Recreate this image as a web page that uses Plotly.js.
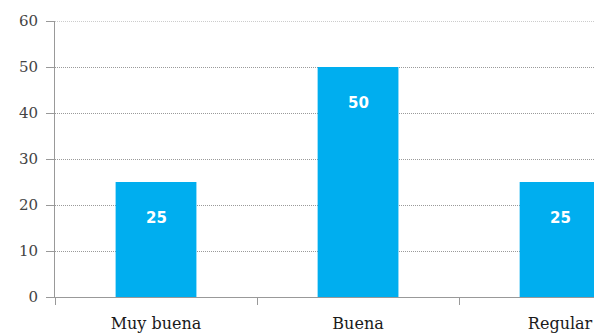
<!DOCTYPE html>
<html>
<head>
<meta charset="utf-8">
<script src="https://cdn.plot.ly/plotly-3.0.1.min.js"></script>
<style>html,body{margin:0;padding:0;background:#fff;}#chart{width:594px;height:334px;}</style>
</head>
<body>
<div id="chart"></div>
<script>
const categories = ["Muy buena", "Buena", "Regular"];
const values = [25, 50, 25];
const yTicks = [0, 10, 20, 30, 40, 50, 60];

const trace = {
  type: "bar",
  x: categories,
  y: values,
  width: 0.4,
  marker: {color: "#00AEEF", line: {width: 0}},
  hoverinfo: "none"
};

const annotations = categories.map((c, i) => ({
  x: c, y: values[i], xref: "x", yref: "y",
  text: "<b>" + values[i] + "</b>",
  showarrow: false, yanchor: "top", yshift: -25,
  font: {family: "DejaVu Sans, Arial, sans-serif", size: 15, color: "#ffffff"}
}));

const yMax = yTicks[yTicks.length - 1];

const layout = {
  width: 594, height: 334,
  margin: {l: 55, r: 0, t: 21, b: 37, pad: 0},
  paper_bgcolor: "#ffffff", plot_bgcolor: "#ffffff",
  showlegend: false,
  xaxis: {
    type: "category",
    range: [-0.5, 2.168],
    showgrid: false,
    showline: true, linecolor: "#999999", linewidth: 1,
    ticks: "outside", tickson: "boundaries", ticklen: 7, tickcolor: "#999999",
    tickfont: {family: "DejaVu Serif, serif", size: 16, color: "#1a1a1a"},
    ticklabelstandoff: 12,
    zeroline: false, fixedrange: true
  },
  yaxis: {
    range: [0, yMax],
    tickvals: yTicks,
    ticktext: yTicks.map(String),
    showgrid: true, gridcolor: "#9a9a9a", griddash: "1px,1px", gridwidth: 1,
    showline: true, linecolor: "#999999", linewidth: 1,
    ticks: "outside", ticklen: 8, tickcolor: "#999999",
    tickfont: {family: "DejaVu Serif, serif", size: 15, color: "#444444"},
    ticklabelstandoff: 5,
    zeroline: false, fixedrange: true
  },
  shapes: [{
    type: "line", xref: "paper", yref: "y", x0: 0, x1: 1, y0: yMax, y1: yMax,
    line: {color: "#9a9a9a", width: 1, dash: "1px,1px"}, layer: "below"
  }],
  annotations: annotations
};

Plotly.newPlot("chart", [trace], layout, {displayModeBar: false, staticPlot: true});
</script>
</body>
</html>
